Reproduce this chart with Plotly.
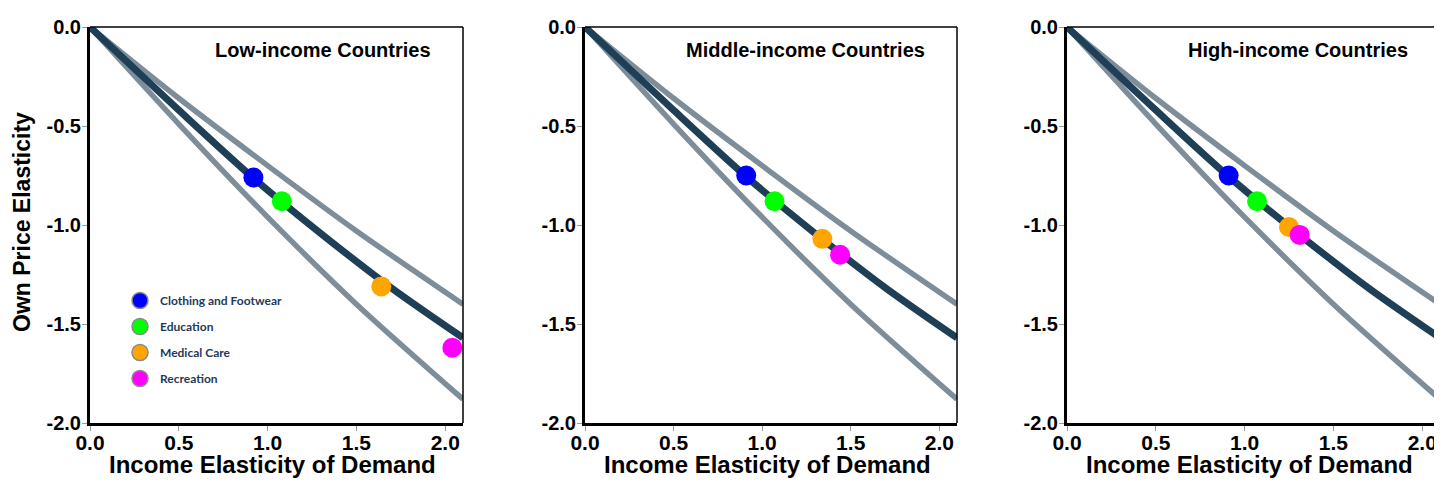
import plotly.graph_objects as go

# ---------------- data ----------------
categories = ["Clothing and Footwear", "Education", "Medical Care", "Recreation"]
cat_colors = ["#0000ff", "#00ff00", "#ffa500", "#ff00ff"]

panel_titles = ["Low-income Countries", "Middle-income Countries", "High-income Countries"]

low_x = [0.92, 1.08, 1.64, 2.04]
low_y = [-0.76, -0.88, -1.31, -1.62]
mid_x = [0.91, 1.07, 1.34, 1.44]
mid_y = [-0.75, -0.88, -1.07, -1.15]
high_x = [0.91, 1.07, 1.25, 1.31]
high_y = [-0.75, -0.88, -1.01, -1.05]

# reference curves (same in every panel)
mid_curve_x = [0.0, 0.5, 0.91, 1.31, 1.7, 2.1]
mid_curve_y = [0.0, -0.42, -0.755, -1.05, -1.32, -1.57]
upper_curve_x = [0.0, 0.5, 1.0, 1.5, 2.1]
upper_curve_y = [0.0, -0.36, -0.70, -1.03, -1.40]
lower_curve_x = [0.0, 0.5, 1.0, 1.5, 2.1]
lower_curve_y = [0.0, -0.49, -0.96, -1.40, -1.88]

x_ticks = [0.0, 0.5, 1.0, 1.5, 2.0]
x_ticktext = ["0.0", "0.5", "1.0", "1.5", "2.0"]
y_ticks = [0.0, -0.5, -1.0, -1.5, -2.0]
y_ticktext = ["0.0", "-0.5", "-1.0", "-1.5", "-2.0"]

x_title = "Income Elasticity of Demand"
y_title = "Own Price Elasticity"

# ---------------- figure ----------------
OFF = 8                      # page body margin
W, H = 1442 - OFF, 484 - OFF
fig = go.Figure()

panels = [(low_x, low_y), (mid_x, mid_y), (high_x, high_y)]
x_dom_px = [(90, 463), (585, 957), (1067, 1440)]   # window pixels
y_top_px, y_bot_px = 27, 423
y_dom = [1 - (y_bot_px - OFF) / H, 1 - (y_top_px - OFF) / H]

DARK = "#1e3f56"
GRAY = "#7d8e9a"
FONT = "Liberation Sans, Arial, sans-serif"

for i, (px, py) in enumerate(panels):
    xa = "x" if i == 0 else f"x{i+1}"
    ya = "y" if i == 0 else f"y{i+1}"
    for cx, cy in ((upper_curve_x, upper_curve_y), (lower_curve_x, lower_curve_y)):
        fig.add_trace(go.Scatter(x=cx, y=cy, mode="lines",
                                 line=dict(color=GRAY, width=5.5, shape="spline", smoothing=0.8),
                                 showlegend=False, hoverinfo="skip", xaxis=xa, yaxis=ya))
    fig.add_trace(go.Scatter(x=mid_curve_x, y=mid_curve_y, mode="lines",
                             line=dict(color=DARK, width=7, shape="spline", smoothing=0.8),
                             showlegend=False, hoverinfo="skip", xaxis=xa, yaxis=ya))
    for k, cat in enumerate(categories):
        fig.add_trace(go.Scatter(x=[px[k]], y=[py[k]], mode="markers", name=cat,
                                 marker=dict(color=cat_colors[k], size=20, line=dict(width=0)),
                                 showlegend=False, xaxis=xa, yaxis=ya))

# legend entries (no data drawn)
for k, cat in enumerate(categories):
    fig.add_trace(go.Scatter(x=[None], y=[None], mode="markers", name=cat, legendgroup=cat,
                             marker=dict(color=cat_colors[k], size=20, line=dict(width=1.5, color="#8a8a8a")),
                             showlegend=True, xaxis="x", yaxis="y"))

layout = dict(
    width=W, height=H,
    margin=dict(l=0, r=0, t=0, b=0, autoexpand=False),
    paper_bgcolor="white", plot_bgcolor="white",
    showlegend=True,
    legend=dict(x=112 / W, y=1 - 278 / H, xanchor="left", yanchor="top",
                font=dict(family="Lato, Open Sans, sans-serif", size=12, color="#1f3a5a", weight="bold"),
                tracegroupgap=7, bgcolor="rgba(0,0,0,0)", itemsizing="trace"),
)
for i in range(3):
    sfx = "" if i == 0 else str(i + 1)
    l, r = x_dom_px[i]
    layout[f"xaxis{sfx}"] = dict(
        domain=[(l - OFF) / W, (r - OFF) / W], range=[0, 2.1], anchor=f"y{sfx}",
        tickvals=x_ticks, ticktext=x_ticktext, ticks="outside", ticklen=5, tickcolor="#999999",
        tickfont=dict(family=FONT, size=21, color="black", weight="bold"), ticklabelstandoff=-6,
        showline=True, linecolor="black", linewidth=3, showgrid=False, zeroline=False,
    )
    layout[f"yaxis{sfx}"] = dict(
        domain=y_dom, range=[-2.0, 0.0], anchor=f"x{sfx}",
        tickvals=y_ticks, ticktext=y_ticktext, ticks="outside", ticklen=5, tickcolor="#999999",
        tickfont=dict(family=FONT, size=20, color="black", weight="bold"), ticklabelstandoff=-3,
        showline=True, linecolor="black", linewidth=3, showgrid=False, zeroline=False,
    )
fig.update_layout(**layout)

shapes = []
annotations = []
for i in range(3):
    sfx = "" if i == 0 else str(i + 1)
    shapes.append(dict(type="line", xref=f"x{sfx} domain", yref=f"y{sfx} domain", x0=0, x1=1, y0=1, y1=1,
                       line=dict(color="black", width=1.5)))
    shapes.append(dict(type="line", xref=f"x{sfx} domain", yref=f"y{sfx} domain", x0=1, x1=1, y0=0, y1=1,
                       line=dict(color="black", width=1.5)))
    annotations.append(dict(text=panel_titles[i], xref=f"x{sfx} domain", yref=f"y{sfx} domain",
                            x=0.92, y=0.942, xanchor="right", yanchor="middle", showarrow=False,
                            font=dict(family=FONT, size=20, color="black", weight="bold")))
    # x axis title
    annotations.append(dict(text=x_title, xref=f"x{sfx} domain", yref="paper",
                            x=0.49, y=1 - (464 - OFF) / H, xanchor="center", yanchor="middle", showarrow=False,
                            font=dict(family=FONT, size=24, color="black", weight="bold")))
# y axis title (first panel only)
annotations.append(dict(text=y_title, xref="paper", yref="paper", textangle=-90,
                        x=(22 - OFF) / W, y=1 - (222 - OFF) / H, xanchor="center", yanchor="middle",
                        showarrow=False, font=dict(family=FONT, size=23, color="black", weight="bold")))
fig.update_layout(shapes=shapes, annotations=annotations)

fig.write_html("out.html")
